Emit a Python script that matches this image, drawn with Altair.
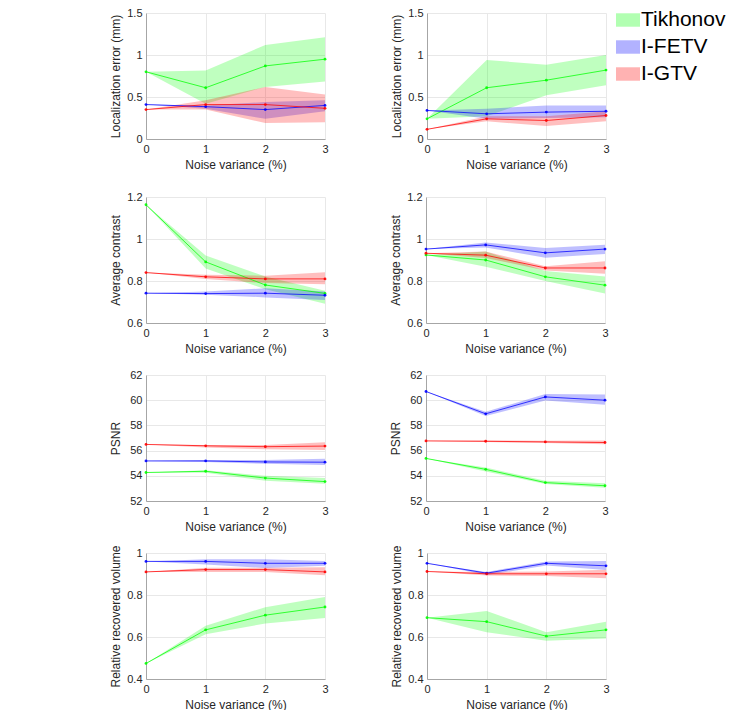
import altair as alt
import pandas as pd

x_vals = [0, 1, 2, 3]
methods = ["Tikhonov", "I-FETV", "I-GTV"]
colors = ["#00ff00", "#0000ff", "#ff0000"]
x_title = "Noise variance (%)"

# ---- Localization error, left ----
locL_tik = [0.80, 0.61, 0.87, 0.95]
locL_tik_lo = [0.80, 0.42, 0.62, 0.685]
locL_tik_hi = [0.80, 0.815, 1.12, 1.21]
locL_fetv = [0.41, 0.385, 0.35, 0.40]
locL_fetv_lo = [0.41, 0.36, 0.24, 0.33]
locL_fetv_hi = [0.41, 0.40, 0.44, 0.46]
locL_gtv = [0.35, 0.41, 0.41, 0.365]
locL_gtv_lo = [0.35, 0.35, 0.19, 0.20]
locL_gtv_hi = [0.35, 0.46, 0.62, 0.53]

# ---- Localization error, right ----
locR_tik = [0.24, 0.61, 0.70, 0.82]
locR_tik_lo = [0.24, 0.27, 0.52, 0.64]
locR_tik_hi = [0.24, 0.94, 0.885, 1.0]
locR_fetv = [0.34, 0.30, 0.32, 0.33]
locR_fetv_lo = [0.34, 0.24, 0.25, 0.26]
locR_fetv_hi = [0.34, 0.36, 0.40, 0.40]
locR_gtv = [0.115, 0.24, 0.22, 0.28]
locR_gtv_lo = [0.115, 0.21, 0.155, 0.21]
locR_gtv_hi = [0.115, 0.27, 0.27, 0.33]

# ---- Average contrast, left ----
conL_tik = [1.163, 0.891, 0.781, 0.741]
conL_tik_lo = [1.163, 0.86, 0.761, 0.692]
conL_tik_hi = [1.163, 0.921, 0.822, 0.753]
conL_fetv = [0.742, 0.74, 0.742, 0.732]
conL_fetv_lo = [0.742, 0.735, 0.722, 0.71]
conL_fetv_hi = [0.742, 0.75, 0.765, 0.75]
conL_gtv = [0.84, 0.82, 0.81, 0.81]
conL_gtv_lo = [0.84, 0.81, 0.79, 0.784]
conL_gtv_hi = [0.84, 0.83, 0.825, 0.842]

# ---- Average contrast, right ----
conR_tik = [0.924, 0.90, 0.82, 0.78]
conR_tik_lo = [0.924, 0.868, 0.80, 0.741]
conR_tik_hi = [0.924, 0.94, 0.848, 0.822]
conR_fetv = [0.952, 0.972, 0.934, 0.952]
conR_fetv_lo = [0.952, 0.96, 0.911, 0.929]
conR_fetv_hi = [0.952, 0.983, 0.957, 0.973]
conR_gtv = [0.932, 0.923, 0.862, 0.862]
conR_gtv_lo = [0.932, 0.91, 0.85, 0.834]
conR_gtv_hi = [0.932, 0.94, 0.87, 0.894]

# ---- PSNR, left ----
psnL_tik = [54.26, 54.36, 53.82, 53.54]
psnL_tik_lo = [54.26, 54.25, 53.6, 53.36]
psnL_tik_hi = [54.26, 54.45, 54.0, 53.82]
psnL_fetv = [55.18, 55.18, 55.10, 55.08]
psnL_fetv_lo = [55.18, 55.1, 54.95, 54.85]
psnL_fetv_hi = [55.18, 55.25, 55.25, 55.36]
psnL_gtv = [56.49, 56.38, 56.31, 56.36]
psnL_gtv_lo = [56.49, 56.25, 56.1, 56.05]
psnL_gtv_hi = [56.49, 56.45, 56.45, 56.67]

# ---- PSNR, right ----
psnR_tik = [55.38, 54.51, 53.46, 53.21]
psnR_tik_lo = [55.38, 54.35, 53.35, 53.05]
psnR_tik_hi = [55.38, 54.65, 53.6, 53.4]
psnR_fetv = [60.69, 58.92, 60.26, 60.0]
psnR_fetv_lo = [60.69, 58.74, 59.97, 59.64]
psnR_fetv_hi = [60.69, 59.08, 60.49, 60.46]
psnR_gtv = [56.77, 56.74, 56.69, 56.64]
psnR_gtv_lo = [56.77, 56.68, 56.6, 56.5]
psnR_gtv_hi = [56.77, 56.8, 56.78, 56.8]

# ---- Relative recovered volume, left ----
rrvL_tik = [0.474, 0.634, 0.704, 0.743]
rrvL_tik_lo = [0.474, 0.613, 0.664, 0.69]
rrvL_tik_hi = [0.474, 0.654, 0.742, 0.79]
rrvL_fetv = [0.96, 0.96, 0.951, 0.951]
rrvL_fetv_lo = [0.96, 0.945, 0.929, 0.939]
rrvL_fetv_hi = [0.96, 0.97, 0.97, 0.962]
rrvL_gtv = [0.91, 0.921, 0.921, 0.91]
rrvL_gtv_lo = [0.91, 0.91, 0.91, 0.894]
rrvL_gtv_hi = [0.91, 0.93, 0.93, 0.932]

# ---- Relative recovered volume, right ----
rrvR_tik = [0.692, 0.673, 0.604, 0.634]
rrvR_tik_lo = [0.692, 0.623, 0.582, 0.593]
rrvR_tik_hi = [0.692, 0.724, 0.623, 0.673]
rrvR_fetv = [0.951, 0.904, 0.951, 0.939]
rrvR_fetv_lo = [0.951, 0.895, 0.94, 0.919]
rrvR_fetv_hi = [0.951, 0.91, 0.96, 0.962]
rrvR_gtv = [0.912, 0.901, 0.901, 0.901]
rrvR_gtv_lo = [0.912, 0.893, 0.89, 0.88]
rrvR_gtv_hi = [0.912, 0.91, 0.912, 0.92]

loc_domain, loc_ticks = [0, 1.5], [0, 0.5, 1, 1.5]
con_domain, con_ticks = [0.6, 1.2], [0.6, 0.8, 1.0, 1.2]
psn_domain, psn_ticks = [52, 62], [52, 54, 56, 58, 60, 62]
rrv_domain, rrv_ticks = [0.4, 1.0], [0.4, 0.6, 0.8, 1.0]

PW, PH = 179, 126
color_scale = alt.Scale(domain=methods, range=colors)


def make_df(series):
    rows = []
    for m, (mean, lo, hi) in zip(methods, series):
        for xv, a, b, c in zip(x_vals, mean, lo, hi):
            rows.append({"x": xv, "method": m, "mean": a, "lo": b, "hi": c})
    return pd.DataFrame(rows)


def panel(series, domain, ticks, ytitle):
    df = make_df(series)
    base = alt.Chart(df)
    xsc = alt.Scale(domain=[0, 3], nice=False)
    xax = alt.Axis(values=x_vals, format="d", title=x_title, labelFlush=False)
    ysc = alt.Scale(domain=domain, nice=False, zero=False)
    yax = alt.Axis(values=ticks, format="~g", title=ytitle, labelOverlap=False,
                   labelFlush=False)
    area = base.mark_area(opacity=0.25).encode(
        x=alt.X("x:Q", scale=xsc, axis=xax),
        y=alt.Y("lo:Q", scale=ysc, axis=yax),
        y2="hi:Q",
        color=alt.Color("method:N", scale=color_scale, sort=methods,
                        legend=alt.Legend(title=None)),
    )
    line = base.mark_line(strokeWidth=1, opacity=0.75).encode(
        x=alt.X("x:Q", scale=xsc, axis=xax),
        y=alt.Y("mean:Q", scale=ysc, axis=yax),
        color=alt.Color("method:N", scale=color_scale, sort=methods, legend=None),
    )
    pts = base.mark_point(filled=True, size=8, opacity=0.9).encode(
        x=alt.X("x:Q", scale=xsc, axis=xax),
        y=alt.Y("mean:Q", scale=ysc, axis=yax),
        color=alt.Color("method:N", scale=color_scale, sort=methods, legend=None),
    )
    return alt.layer(area, line, pts).properties(width=PW, height=PH)


pA = panel([(locL_tik, locL_tik_lo, locL_tik_hi),
            (locL_fetv, locL_fetv_lo, locL_fetv_hi),
            (locL_gtv, locL_gtv_lo, locL_gtv_hi)],
           loc_domain, loc_ticks, "Localization error (mm)")
pB = panel([(locR_tik, locR_tik_lo, locR_tik_hi),
            (locR_fetv, locR_fetv_lo, locR_fetv_hi),
            (locR_gtv, locR_gtv_lo, locR_gtv_hi)],
           loc_domain, loc_ticks, "Localization error (mm)")
pC = panel([(conL_tik, conL_tik_lo, conL_tik_hi),
            (conL_fetv, conL_fetv_lo, conL_fetv_hi),
            (conL_gtv, conL_gtv_lo, conL_gtv_hi)],
           con_domain, con_ticks, "Average contrast")
pD = panel([(conR_tik, conR_tik_lo, conR_tik_hi),
            (conR_fetv, conR_fetv_lo, conR_fetv_hi),
            (conR_gtv, conR_gtv_lo, conR_gtv_hi)],
           con_domain, con_ticks, "Average contrast")
pE = panel([(psnL_tik, psnL_tik_lo, psnL_tik_hi),
            (psnL_fetv, psnL_fetv_lo, psnL_fetv_hi),
            (psnL_gtv, psnL_gtv_lo, psnL_gtv_hi)],
           psn_domain, psn_ticks, "PSNR")
pF = panel([(psnR_tik, psnR_tik_lo, psnR_tik_hi),
            (psnR_fetv, psnR_fetv_lo, psnR_fetv_hi),
            (psnR_gtv, psnR_gtv_lo, psnR_gtv_hi)],
           psn_domain, psn_ticks, "PSNR")
pG = panel([(rrvL_tik, rrvL_tik_lo, rrvL_tik_hi),
            (rrvL_fetv, rrvL_fetv_lo, rrvL_fetv_hi),
            (rrvL_gtv, rrvL_gtv_lo, rrvL_gtv_hi)],
           rrv_domain, rrv_ticks, "Relative recovered volume")
pH = panel([(rrvR_tik, rrvR_tik_lo, rrvR_tik_hi),
            (rrvR_fetv, rrvR_fetv_lo, rrvR_fetv_hi),
            (rrvR_gtv, rrvR_gtv_lo, rrvR_gtv_hi)],
           rrv_domain, rrv_ticks, "Relative recovered volume")

COLSP = 60
row1 = alt.hconcat(pA, pB, spacing=COLSP)
row2 = alt.hconcat(pC, pD, spacing=COLSP)
row3 = alt.hconcat(pE, pF, spacing=COLSP)
row4 = alt.hconcat(pG, pH, spacing=COLSP)

chart = alt.vconcat(
    row1,
    alt.vconcat(row2, alt.vconcat(row3, row4, spacing=12), spacing=15),
    spacing=21,
).resolve_scale(color="shared").properties(
    padding={"left": 100, "top": -1, "right": 0, "bottom": 0},
    background="white",
).configure_view(stroke=None).configure_axis(
    labelFont="Liberation Sans",
    labelFontSize=11,
    labelColor="#262626",
    titleFont="Liberation Sans",
    titleFontSize=12,
    titleFontWeight="normal",
    titleColor="#262626",
    gridColor="#e8e8e8",
    gridWidth=1,
    domainColor="#a6a6a6",
    domainWidth=1,
    ticks=False,
    labelPadding=4,
).configure_axisX(
    titlePadding=5,
).configure_axisY(
    titlePadding=2,
    minExtent=22,
    maxExtent=22,
).configure_legend(
    orient="none",
    legendX=470,
    legendY=-5,
    padding=0,
    labelFont="Liberation Sans",
    labelFontSize=21,
    labelColor="#000000",
    labelOffset=1,
    symbolType="M-1,-0.56H1V0.56H-1Z",
    symbolSize=576,
    symbolOpacity=0.3,
    symbolStrokeWidth=0,
    rowPadding=5,
)

chart.save("out.html", embed_options={"renderer": "svg", "actions": False})
